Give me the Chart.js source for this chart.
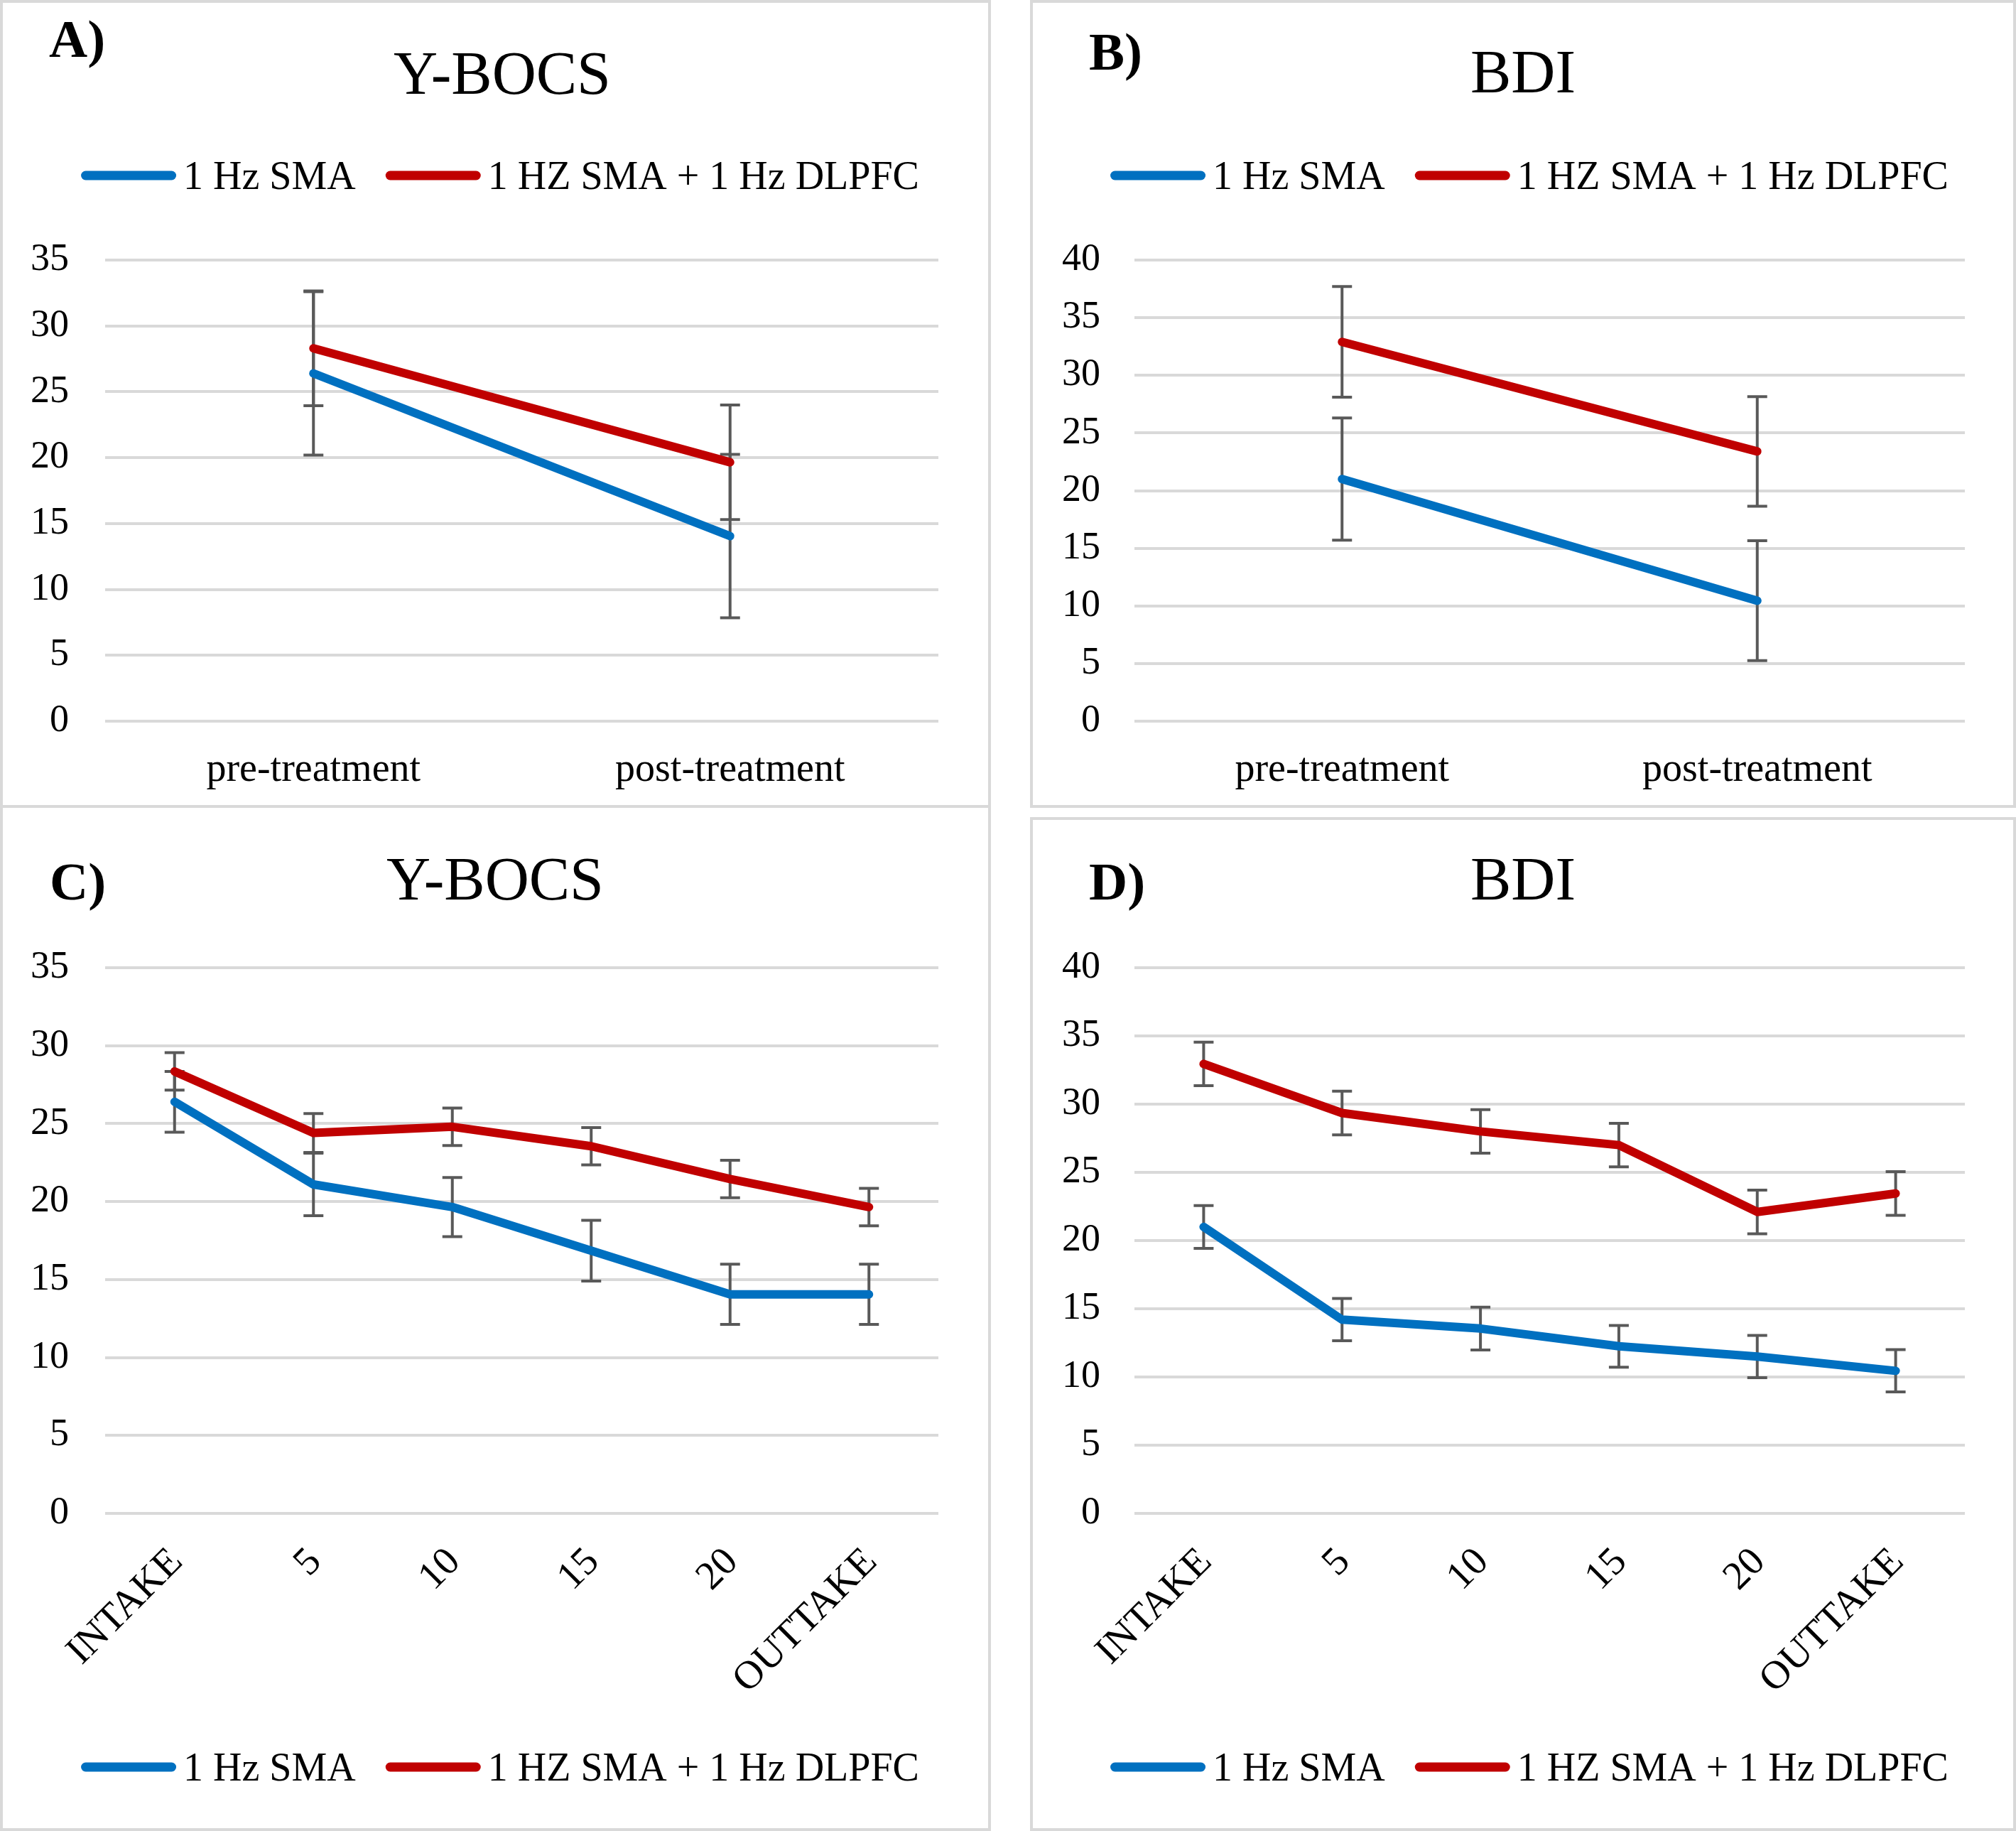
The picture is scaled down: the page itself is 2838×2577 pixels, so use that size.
<!DOCTYPE html>
<html>
<head>
<meta charset="utf-8">
<script src="https://cdn.jsdelivr.net/npm/chart.js@4.4.1/dist/chart.umd.min.js"></script>
<style>
html,body{margin:0;padding:0;background:#ffffff;}
body{width:2838px;height:2577px;position:relative;overflow:hidden;}
.panel{position:absolute;box-sizing:border-box;border:4px solid #d9d9d9;}
canvas{position:absolute;}
</style>
</head>
<body>
<div class="panel" style="left:0px;top:0px;width:1395px;height:1137px"></div>
<div class="panel" style="left:1450px;top:0px;width:1388px;height:1137px"></div>
<div class="panel" style="left:0px;top:1133px;width:1395px;height:1444px"></div>
<div class="panel" style="left:1450px;top:1150px;width:1388px;height:1427px"></div>
<canvas id="cA" width="1395" height="1137" style="left:0px;top:0px"></canvas>
<canvas id="cB" width="1388" height="1137" style="left:1450px;top:0px"></canvas>
<canvas id="cC" width="1395" height="1444" style="left:0px;top:1133px"></canvas>
<canvas id="cD" width="1388" height="1427" style="left:1450px;top:1150px"></canvas>
<script>
// ---------- DATA ----------
const seriesNames = ['1 Hz SMA', '1 HZ SMA + 1 Hz DLPFC'];

const prePostCategories = ['pre-treatment', 'post-treatment'];
const sessionCategories = ['INTAKE', '5', '10', '15', '20', 'OUTTAKE'];

// A) Y-BOCS pre/post
const ybocsPP_sma = [26.4, 14.05];
const ybocsPP_smaErr = [6.2, 6.2];
const ybocsPP_dual = [28.3, 19.65];
const ybocsPP_dualErr = [4.35, 4.35];

// B) BDI pre/post
const bdiPP_sma = [21.0, 10.45];
const bdiPP_smaErr = [5.3, 5.2];
const bdiPP_dual = [32.9, 23.4];
const bdiPP_dualErr = [4.8, 4.75];

// C) Y-BOCS sessions
const ybocsS_sma = [26.4, 21.1, 19.65, 16.85, 14.05, 14.05];
const ybocsS_smaErr = [1.95, 2.0, 1.9, 1.95, 1.93, 1.93];
const ybocsS_dual = [28.35, 24.4, 24.8, 23.55, 21.45, 19.65];
const ybocsS_dualErr = [1.2, 1.25, 1.2, 1.2, 1.2, 1.2];

// D) BDI sessions
const bdiS_sma = [21.0, 14.2, 13.55, 12.25, 11.5, 10.45];
const bdiS_smaErr = [1.57, 1.55, 1.57, 1.53, 1.55, 1.55];
const bdiS_dual = [32.95, 29.35, 28.0, 27.0, 22.1, 23.45];
const bdiS_dualErr = [1.6, 1.6, 1.6, 1.6, 1.6, 1.6];

const ybocsTicks = {min: 0, max: 35, step: 5};
const bdiTicks = {min: 0, max: 40, step: 5};

// ---------- STYLE ----------
const BLUE = '#0070C0';
const RED = '#C00000';
const FONT = '"Liberation Serif", "Times New Roman", serif';

Chart.defaults.font.family = FONT;
Chart.defaults.color = '#000000';

const errorBarPlugin = {
  id: 'errorBars',
  beforeDatasetsDraw(chart) {
    const ctx = chart.ctx;
    const ys = chart.scales.y;
    ctx.save();
    ctx.strokeStyle = '#595959';
    ctx.lineWidth = 4;
    ctx.lineCap = 'butt';
    chart.data.datasets.forEach((ds, i) => {
      const meta = chart.getDatasetMeta(i);
      const errs = ds.errorBars || [];
      meta.data.forEach((pt, j) => {
        const v = ds.data[j], e = errs[j];
        if (e == null) return;
        const x = pt.x;
        const yt = ys.getPixelForValue(v + e);
        const yb = ys.getPixelForValue(v - e);
        ctx.beginPath();
        ctx.moveTo(x, yt); ctx.lineTo(x, yb);
        ctx.moveTo(x - 14, yt); ctx.lineTo(x + 14, yt);
        ctx.moveTo(x - 14, yb); ctx.lineTo(x + 14, yb);
        ctx.stroke();
      });
    });
    ctx.restore();
  }
};

function makeDecor(cfg) {
  return {
    id: 'decor',
    afterDraw(chart) {
      const ctx = chart.ctx;
      ctx.save();
      ctx.fillStyle = '#000000';
      ctx.textBaseline = 'alphabetic';
      // panel letter
      ctx.font = 'bold 75px ' + FONT;
      ctx.textAlign = 'left';
      ctx.fillText(cfg.letter, cfg.letterX, cfg.letterY);
      // title
      ctx.font = '86px ' + FONT;
      ctx.textAlign = 'center';
      ctx.fillText(cfg.title, cfg.titleX, cfg.titleY);
      // legend
      ctx.font = '56px ' + FONT;
      ctx.textAlign = 'left';
      const lineLen = 134, gapText = 10, gapItem = 42;
      const items = chart.data.datasets.map(d => ({text: d.label, color: d.borderColor, w: ctx.measureText(d.label).width}));
      let total = 0;
      items.forEach((it, i) => { total += lineLen + gapText + it.w + (i < items.length - 1 ? gapItem : 0); });
      let x = cfg.legendCX - total / 2;
      items.forEach(it => {
        ctx.strokeStyle = it.color;
        ctx.lineWidth = 13;
        ctx.lineCap = 'round';
        ctx.beginPath();
        ctx.moveTo(x + 6.5, cfg.legendY);
        ctx.lineTo(x + lineLen - 6.5, cfg.legendY);
        ctx.stroke();
        x += lineLen + gapText;
        ctx.fillText(it.text, x, cfg.legendTextY);
        x += it.w + gapItem;
      });
      ctx.restore();
    }
  };
}

function makeChart(id, cats, sma, smaErr, dual, dualErr, yt, lay, decor) {
  const rotated = lay.rotated;
  return new Chart(document.getElementById(id), {
    type: 'line',
    data: {
      labels: cats,
      datasets: [
        {label: seriesNames[0], data: sma, errorBars: smaErr, borderColor: BLUE, backgroundColor: BLUE,
         borderWidth: 12, pointRadius: 0, tension: 0, borderCapStyle: 'round', borderJoinStyle: 'round', fill: false},
        {label: seriesNames[1], data: dual, errorBars: dualErr, borderColor: RED, backgroundColor: RED,
         borderWidth: 12, pointRadius: 0, tension: 0, borderCapStyle: 'round', borderJoinStyle: 'round', fill: false}
      ]
    },
    options: {
      responsive: false,
      animation: false,
      devicePixelRatio: 1,
      layout: {padding: {left: 0, top: lay.top, right: lay.right, bottom: lay.bottom}},
      plugins: {legend: {display: false}, title: {display: false}, tooltip: {enabled: false}},
      scales: {
        x: {
          type: 'category',
          offset: true,
          grid: {display: false, drawTicks: false},
          border: {display: false},
          ticks: {
            color: '#000000',
            font: {family: FONT, size: 56},
            padding: lay.xPad,
            labelOffset: rotated ? 3 : 0,
            minRotation: rotated ? 45 : 0,
            maxRotation: rotated ? 45 : 0,
            autoSkip: false
          },
          afterFit(s) { s.height = lay.xH; }
        },
        y: {
          min: yt.min, max: yt.max,
          grid: {color: '#d9d9d9', lineWidth: 4, drawTicks: false},
          border: {display: false},
          ticks: {stepSize: yt.step, color: '#000000', font: {family: FONT, size: 54}, padding: lay.yPad},
          afterFit(s) { s.width = lay.yW; }
        }
      }
    },
    plugins: [errorBarPlugin, makeDecor(decor)]
  });
}

makeChart('cA', prePostCategories, ybocsPP_sma, ybocsPP_smaErr, ybocsPP_dual, ybocsPP_dualErr, ybocsTicks,
  {top: 366, right: 74, bottom: 22, xH: 100, xPad: 36, yW: 148, yPad: 51, rotated: false},
  {letter: 'A)', letterX: 69, letterY: 80, title: 'Y-BOCS', titleX: 707, titleY: 132, legendCX: 704, legendY: 247, legendTextY: 266});

makeChart('cB', prePostCategories, bdiPP_sma, bdiPP_smaErr, bdiPP_dual, bdiPP_dualErr, bdiTicks,
  {top: 366, right: 72, bottom: 22, xH: 100, xPad: 36, yW: 147, yPad: 48, rotated: false},
  {letter: 'B)', letterX: 83, letterY: 98, title: 'BDI', titleX: 694, titleY: 130, legendCX: 703, legendY: 247, legendTextY: 266});

makeChart('cC', sessionCategories, ybocsS_sma, ybocsS_smaErr, ybocsS_dual, ybocsS_dualErr, ybocsTicks,
  {top: 229, right: 74, bottom: 47, xH: 400, xPad: 36, yW: 148, yPad: 51, rotated: true},
  {letter: 'C)', letterX: 70, letterY: 133, title: 'Y-BOCS', titleX: 697, titleY: 133, legendCX: 704, legendY: 1354, legendTextY: 1373});

makeChart('cD', sessionCategories, bdiS_sma, bdiS_smaErr, bdiS_dual, bdiS_dualErr, bdiTicks,
  {top: 212, right: 72, bottom: 47, xH: 400, xPad: 36, yW: 147, yPad: 48, rotated: true},
  {letter: 'D)', letterX: 83, letterY: 116, title: 'BDI', titleX: 694, titleY: 116, legendCX: 703, legendY: 1337, legendTextY: 1356});
</script>
</body>
</html>
